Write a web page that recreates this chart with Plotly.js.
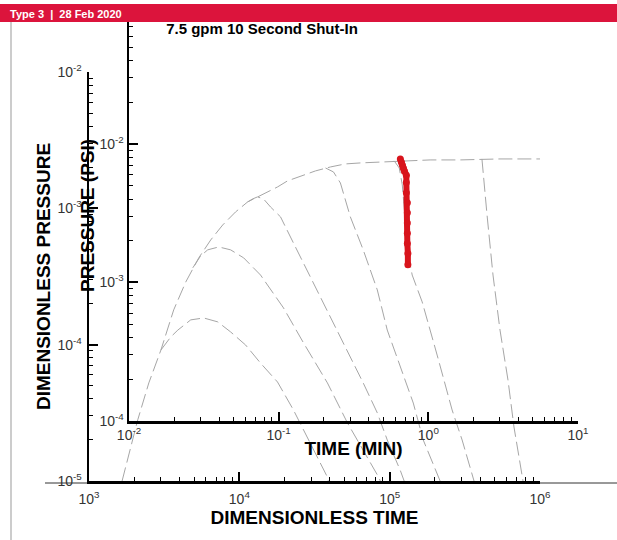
<!DOCTYPE html>
<html><head><meta charset="utf-8">
<script src="https://cdn.plot.ly/plotly-3.0.1.min.js"></script>
<style>html,body{margin:0;padding:0;background:#fff}#chart{width:617px;height:540px}</style>
</head><body><div id="chart"></div>
<script>
// ---- Type curves (dimensionless time vs dimensionless pressure) ----
var envT = [1660, 2110, 2500, 3010, 3660, 4400, 5370, 6450, 7750, 9440, 11350, 13200, 15400, 17950, 20900, 25500, 32100, 40400, 50700, 63800, 86700, 117500, 185800, 293800, 542000, 1000000];
var envP = [1.0e-5, 2.81e-5, 5.24e-5, 9.14e-5, 1.80e-4, 2.88e-4, 4.33e-4, 5.86e-4, 7.55e-4, 9.41e-4, 1.114e-3, 1.213e-3, 1.319e-3, 1.435e-3, 1.589e-3, 1.729e-3, 1.881e-3, 2.012e-3, 2.117e-3, 2.153e-3, 2.188e-3, 2.228e-3, 2.265e-3, 2.265e-3, 2.303e-3, 2.303e-3];

var hump1T = [3010, 3500, 3900, 4750, 5790, 7180, 8750, 11000, 13800, 17950, 22900, 29700, 38500, 39100];
var hump1P = [9.14e-5, 1.14e-4, 1.28e-4, 1.52e-4, 1.57e-4, 1.47e-4, 1.24e-4, 9.95e-5, 7.35e-5, 5.32e-5, 3.32e-5, 1.90e-5, 1.07e-5, 1.0e-5];

var hump2T = [4900, 5530, 6160, 7300, 8750, 10690, 13840, 19670, 26730, 38550, 52360, 71040, 82760, 86700];
var hump2P = [3.66e-4, 4.48e-4, 4.96e-4, 5.21e-4, 4.96e-4, 4.33e-4, 3.24e-4, 1.86e-4, 1.03e-4, 5.24e-5, 2.67e-5, 1.50e-5, 1.11e-5, 1.0e-5];

var hump3T = [11350, 12250, 13210, 14490, 16130, 18800, 22900, 29700, 38550, 52360, 66680, 82760, 96380, 117500, 124900];
var hump3P = [1.114e-3, 1.172e-3, 1.213e-3, 1.172e-3, 1.023e-3, 8.65e-4, 5.57e-4, 3.14e-4, 1.80e-4, 9.14e-5, 5.24e-5, 3.16e-5, 2.00e-5, 1.20e-5, 1.0e-5];

var curveCT = [37420, 42290, 47020, 54780, 66680, 82760, 96380, 117500, 143600, 167200, 216600];
var curveCP = [1.977e-3, 1.849e-3, 1.535e-3, 8.65e-4, 4.96e-4, 2.52e-4, 1.28e-4, 6.86e-5, 3.73e-5, 2.00e-5, 1.0e-5];

var curveDT = [107200, 115800, 121300, 127000, 132900, 141200, 164500, 206900, 260200, 303300, 364100];
var curveDP = [2.228e-3, 1.977e-3, 1.487e-3, 8.22e-4, 4.55e-4, 3.24e-4, 2.06e-4, 8.39e-5, 3.32e-5, 2.00e-5, 1.0e-5];

var curveET = [411000, 424300, 444300, 486800, 541900, 612400, 671300, 770900];
var curveEP = [2.303e-3, 1.487e-3, 8.95e-4, 3.24e-4, 1.28e-4, 5.51e-5, 2.49e-5, 1.0e-5];

// ---- Measured shut-in data (time in minutes vs pressure in psi) ----
var dataTime = [0.650, 0.661, 0.671, 0.681, 0.692, 0.713, 0.713, 0.713, 0.724, 0.724, 0.724, 0.724, 0.724, 0.730, 0.730];
var dataPress = [7.77e-3, 7.38e-3, 7.02e-3, 6.67e-3, 6.34e-3, 5.93e-3, 5.27e-3, 4.45e-3, 3.76e-3, 3.18e-3, 2.69e-3, 2.27e-3, 1.91e-3, 1.62e-3, 1.34e-3];

// ---- Tick labels ----
var dimTimeTicks = [1e3, 1e4, 1e5, 1e6];
var dimTimeLabels = ['10<sup>3</sup>', '10<sup>4</sup>', '10<sup>5</sup>', '10<sup>6</sup>'];
var dimPressTicks = [1e-5, 1e-4, 1e-3, 1e-2];
var dimPressLabels = ['10<sup>-5</sup>', '10<sup>-4</sup>', '10<sup>-3</sup>', '10<sup>-2</sup>'];
var timeTicks = [0.01, 0.1, 1, 10];
var timeLabels = ['10<sup>-2</sup>', '10<sup>-1</sup>', '10<sup>0</sup>', '10<sup>1</sup>'];
var pressTicks = [1e-4, 1e-3, 1e-2];
var pressLabels = ['10<sup>-4</sup>', '10<sup>-3</sup>', '10<sup>-2</sup>'];

var chartTitle = '7.5 gpm 10 Second Shut-In';
var headerText = 'Type 3  |  28 Feb 2020';

var W = 617, H = 540;
var FONT = 'Liberation Sans, Arial, sans-serif';
function px(x){ return x / W; }
function py(y){ return 1 - y / H; }

var curveLine = {color: '#a6a6a6', width: 1, dash: '14px,5px'};
function tc(t, p, name){
  return {x: t, y: p, xaxis: 'x', yaxis: 'y', mode: 'lines', line: curveLine, name: name, hoverinfo: 'skip', showlegend: false};
}
var traces = [
  tc(envT, envP, 'envelope'),
  tc(hump1T, hump1P, 'curve 1'),
  tc(hump2T, hump2P, 'curve 2'),
  tc(hump3T, hump3P, 'curve 3'),
  tc(curveCT, curveCP, 'curve 4'),
  tc(curveDT, curveDP, 'curve 5'),
  tc(curveET, curveEP, 'curve 6'),
  {x: dataTime, y: dataPress, xaxis: 'x2', yaxis: 'y2', mode: 'lines+markers',
   line: {color: '#d8141c', width: 6}, marker: {color: '#d8141c', size: 7},
   name: 'data', showlegend: false}
];

function logAxis(extra){
  return Object.assign({
    type: 'log', showgrid: false, zeroline: false, showline: true,
    linecolor: '#000', linewidth: 2.5, ticks: 'inside', ticklen: 9, tickwidth: 2, tickcolor: '#000',
    tickmode: 'array',
    tickfont: {family: FONT, size: 14, color: '#333'},
    minor: {ticks: 'inside', ticklen: 4, tickwidth: 1, tickcolor: '#000', dtick: 'D1', showgrid: false},
    fixedrange: true
  }, extra);
}
var titleFont = {family: FONT, size: 19, color: '#000'};

var layout = {
  width: W, height: H,
  margin: {l: 0, r: 0, t: 0, b: 0},
  paper_bgcolor: '#fff', plot_bgcolor: 'rgba(0,0,0,0)',
  showlegend: false,
  title: {text: '<b>' + chartTitle + '</b>', font: {family: FONT, size: 15, color: '#000'},
          x: px(262), xanchor: 'center', xref: 'paper', y: py(29), yanchor: 'middle', yref: 'paper'},
  xaxis: logAxis({range: [3, 6], domain: [px(89), px(540)], anchor: 'y',
    tickvals: dimTimeTicks, ticktext: dimTimeLabels, ticklabelstandoff: 4,
    title: {text: '<b>DIMENSIONLESS TIME</b>', font: titleFont, standoff: 0}}),
  yaxis: logAxis({range: [-5, -2], domain: [py(481), py(72)], anchor: 'x',
    tickvals: dimPressTicks, ticktext: dimPressLabels, ticklabelstandoff: 2,
    title: {text: '<b>DIMENSIONLESS PRESSURE</b>', font: titleFont, standoff: 2}}),
  xaxis2: logAxis({range: [-2, 1], domain: [px(129), px(578)], anchor: 'y2',
    tickvals: timeTicks, ticktext: timeLabels,
    title: {text: '<b>TIME (MIN)</b>', font: titleFont, standoff: 0}}),
  yaxis2: logAxis({range: [-4, -1.12], domain: [py(421), py(22)], anchor: 'x2',
    tickvals: pressTicks, ticktext: pressLabels, ticklabelstandoff: 0}),
  shapes: [
    {type: 'line', xref: 'paper', yref: 'paper', x0: px(45), x1: 1, y0: py(483), y1: py(483),
     line: {color: '#333', width: 1}, layer: 'below'},
    {type: 'line', xref: 'paper', yref: 'paper', x0: px(11), x1: px(11), y0: py(22), y1: 0,
     line: {color: '#999', width: 1}, layer: 'below'},
    {type: 'rect', xref: 'paper', yref: 'paper', x0: 0, x1: 1, y0: py(22), y1: py(4),
     fillcolor: '#dc143c', line: {width: 0}, layer: 'above'}
  ],
  annotations: [
    {text: headerText, xref: 'paper', yref: 'paper', x: px(8), y: py(14), xanchor: 'left', yanchor: 'middle',
     showarrow: false, font: {family: FONT, size: 11, color: '#fff', weight: 'bold'}},
    {text: '<b>PRESSURE (PSI)</b>', xref: 'paper', yref: 'paper', x: px(87), y: py(215),
     xanchor: 'center', yanchor: 'middle', textangle: -90, showarrow: false, font: titleFont}
  ]
};

Plotly.newPlot('chart', traces, layout, {displayModeBar: false, staticPlot: true});
</script></body></html>
